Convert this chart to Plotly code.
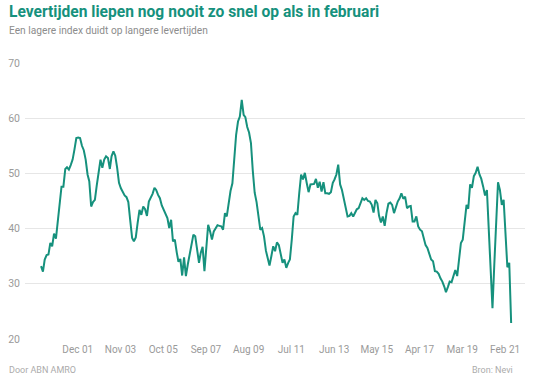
import pandas as pd
import plotly.graph_objects as go

# ---- data (Nevi PMI, levertijden-index, monthly Jan 2000 - Feb 2021) ----
start_month = "2000-01-01"
values = [
    33.2, 32.2, 34.4, 35.2, 35.3, 37.4, 36.8, 39.1, 38.2, 41.5,
    45.5, 47.6, 47.6, 50.8, 51.1, 50.7, 51.5, 52.5, 54.3, 56.4,
    56.5, 56.4, 55.0, 54.2, 52.5, 49.8, 48.6, 44.0, 44.8, 45.2,
    47.8, 50.5, 52.5, 51.0, 52.5, 53.1, 52.8, 50.8, 53.1, 54.0,
    53.2, 51.0, 48.3, 47.3, 46.7, 46.0, 45.7, 44.8, 41.5, 38.3,
    37.7, 38.4, 41.0, 43.4, 42.5, 44.0, 43.5, 42.3, 44.9, 45.5,
    46.3, 47.4, 47.0, 46.1, 45.5, 44.2, 43.4, 42.7, 41.9, 40.1,
    41.6, 37.7, 38.0, 35.7, 34.0, 34.5, 31.5, 34.8, 31.4, 33.5,
    35.5, 36.8, 38.9, 38.6, 36.2, 33.8, 35.6, 36.7, 32.3, 36.8,
    40.7, 39.5, 38.0, 39.5, 40.1, 40.6, 40.5, 40.4, 39.8, 42.8,
    42.2, 44.8, 46.8, 48.2, 53.5, 57.0, 59.4, 60.3, 63.3, 60.6,
    60.2, 58.4, 57.4, 55.5, 50.5, 46.5, 44.8, 42.5, 39.8, 40.1,
    38.6, 36.0, 34.5, 33.3, 35.0, 36.8, 35.9, 37.5, 37.0, 35.6,
    33.8, 34.4, 32.9, 33.8, 34.4, 38.0, 42.2, 42.8, 42.5, 46.4,
    49.8, 48.9, 50.1, 48.3, 46.6, 48.0, 48.1, 48.1, 49.0, 47.4,
    48.5, 46.7, 48.4, 46.4, 46.4, 46.3, 46.6, 48.3, 48.9, 49.8,
    51.6, 48.0, 47.0, 45.2, 43.7, 42.2, 42.3, 42.8, 42.2, 42.8,
    43.5, 43.7, 44.6, 45.5, 45.2, 45.5, 45.0, 44.9, 44.3, 42.9,
    45.2, 44.6, 42.3, 41.1, 42.2, 40.5, 42.8, 44.5, 44.7, 44.3,
    42.8, 44.0, 44.9, 45.5, 46.4, 45.4, 45.8, 43.7, 44.0, 44.1,
    41.3, 41.3, 42.2, 40.4, 39.8, 39.5, 38.5, 37.0, 36.5, 35.4,
    34.4, 34.1, 32.3, 32.2, 31.8, 31.0, 30.4, 29.5, 28.5, 29.4,
    30.4, 30.3, 31.4, 32.5, 31.4, 34.4, 37.4, 38.0, 41.0, 44.3,
    43.6, 48.0, 47.4, 49.5, 50.1, 51.2, 49.8, 49.0, 47.6, 46.0,
    47.0, 39.8, 32.6, 25.6, 33.5, 41.5, 48.4, 47.0, 44.3, 45.2,
    38.0, 33.0, 33.8, 22.9,
]
dates = pd.date_range(start_month, periods=len(values), freq="MS")

tick_dates = ["2001-12-01", "2003-11-01", "2005-10-01", "2007-09-01",
              "2009-08-01", "2011-07-01", "2013-06-01", "2015-05-01",
              "2017-04-01", "2019-03-01", "2021-02-01"]
tick_labels = ["Dec 01", "Nov 03", "Oct 05", "Sep 07", "Aug 09", "Jul 11",
               "Jun 13", "May 15", "Apr 17", "Mar 19", "Feb 21"]
y_ticks = [20, 30, 40, 50, 60, 70]

title = "Levertijden liepen nog nooit zo snel op als in februari"
subtitle = "Een lagere index duidt op langere levertijden"
credit = "Door ABN AMRO"
source = "Bron: Nevi"

# ---- figure ----
W, H = 533, 386
L, R, T, B = 25, 8, 63, 47
pw, ph = W - L - R, H - T - B

def px_x(x):
    return (x - L) / pw

def px_y(y):
    return (H - B - y) / ph

TEAL = "#16917d"
FONT = "Roboto, Arial, sans-serif"

fig = go.Figure(go.Scatter(
    x=dates, y=values, mode="lines",
    line=dict(color=TEAL, width=2), hoverinfo="x+y",
))

fig.update_layout(
    width=W, height=H,
    margin=dict(l=L, r=R, t=T, b=B, pad=0),
    paper_bgcolor="white", plot_bgcolor="white",
    showlegend=False,
    font=dict(family=FONT, color="#999999"),
    xaxis=dict(
        type="date",
        range=["1999-04-13", "2021-09-16"],
        tickmode="array", tickvals=tick_dates, ticktext=tick_labels,
        showgrid=False, zeroline=False, showline=False,
        ticks="", tickfont=dict(size=10, color="#9a9a9a"),
        ticklabelshift=-6, ticklabelstandoff=3,
        fixedrange=True,
    ),
    yaxis=dict(
        range=[20, 70], tickmode="array", tickvals=y_ticks,
        showgrid=True, gridcolor="#e6e6e6", gridwidth=1,
        zeroline=False, showline=False, ticks="",
        tickfont=dict(size=10.5, color="#9a9a9a"),
        ticklabelstandoff=4,
        fixedrange=True,
    ),
    annotations=[
        dict(text="<b>" + title + "</b>", xref="paper", yref="paper",
             x=px_x(7), y=px_y(12.5), xanchor="left", yanchor="middle",
             showarrow=False, font=dict(size=15.6, color=TEAL, family=FONT)),
        dict(text=subtitle, xref="paper", yref="paper",
             x=px_x(7), y=px_y(31), xanchor="left", yanchor="middle",
             showarrow=False, font=dict(size=10.2, color="#8c8c8c", family=FONT)),
        dict(text=credit, xref="paper", yref="paper",
             x=px_x(7), y=px_y(369.5), xanchor="left", yanchor="middle",
             showarrow=False, font=dict(size=9, color="#ababab", family=FONT)),
        dict(text=source, xref="paper", yref="paper",
             x=px_x(515), y=px_y(369.5), xanchor="right", yanchor="middle",
             showarrow=False, font=dict(size=9, color="#ababab", family=FONT)),
    ],
)

# the page's default 8px body margin would push the chart off its 533x386 frame
fig.write_html("out.html", config={"displayModeBar": False},
               post_script="document.body.style.margin='0';")
